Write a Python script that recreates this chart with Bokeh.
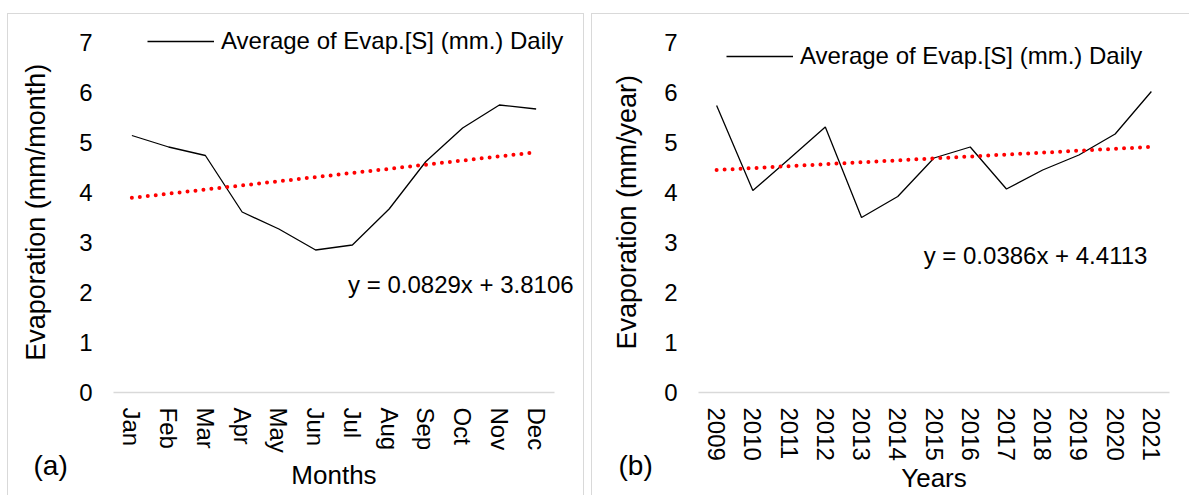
from bokeh.plotting import figure
from bokeh.models import (Range1d, FactorRange, FixedTicker, Legend, LegendItem,
                          Label, Title)
from bokeh.layouts import row
from bokeh.embed import file_html
from bokeh.resources import INLINE

# ---------------- data ----------------
months = ["Jan", "Feb", "Mar", "Apr", "May", "Jun",
          "Jul", "Aug", "Sep", "Oct", "Nov", "Dec"]
monthly_evap = [5.14, 4.91, 4.74, 3.61, 3.27, 2.85,
                2.95, 3.67, 4.62, 5.29, 5.75, 5.67]

years = ["2009", "2010", "2011", "2012", "2013", "2014", "2015",
         "2016", "2017", "2018", "2019", "2020", "2021"]
yearly_evap = [5.74, 4.04, 4.67, 5.31, 3.50, 3.92, 4.69,
               4.91, 4.07, 4.45, 4.75, 5.17, 6.02]

monthly_slope, monthly_intercept = 0.0829, 3.8106
yearly_slope, yearly_intercept = 0.0386, 4.4113

y_ticks = [0, 1, 2, 3, 4, 5, 6, 7]
series_name = "Average of Evap.[S] (mm.) Daily"

FONT = "Liberation Sans"
GRAY = "#d9d9d9"


def border_css(left, top, right):
    g = "linear-gradient(%s,%s)" % (GRAY, GRAY)
    return {"background": ", ".join([
        "%s %dpx %dpx / 1px 600px no-repeat" % (g, left, top),
        "%s %dpx %dpx / %dpx 1px no-repeat" % (g, left, top, right - left + 1),
        "%s %dpx %dpx / 1px 600px no-repeat" % (g, right, top),
    ])}


def panel(cats, vals, slope, intercept, x_title, y_title, tag, eq_text,
          width, mb_left, mb_right, x_pad, y_label_standoff, ytitle_standoff,
          xtitle_standoff, legend_loc, eq_pos, tag_offset, tag_standoff, css):
    p = figure(x_range=FactorRange(factors=cats, range_padding=x_pad,
                                   range_padding_units="absolute"),
               y_range=Range1d(0, 7.36),
               width=width, height=495,
               min_border_left=mb_left, min_border_right=mb_right,
               min_border_top=24, min_border_bottom=103,
               output_backend="svg", toolbar_location=None,
               background_fill_color=None, border_fill_color=None,
               styles=css)
    p.outline_line_color = None
    p.xgrid.visible = False
    p.ygrid.visible = False

    line_r = p.line(x=cats, y=vals, line_color="black", line_width=1.3)

    n = len(cats)
    trend_y = [slope * 1 + intercept, slope * n + intercept]
    p.line(x=[cats[0], cats[-1]], y=trend_y, line_color="red", line_width=4,
           line_dash="0 8", line_cap="round")

    # y axis
    yax = p.yaxis[0]
    yax.ticker = FixedTicker(ticks=y_ticks)
    yax.axis_line_color = None
    yax.major_tick_line_color = None
    yax.minor_tick_line_color = None
    yax.major_tick_out = 0
    yax.major_tick_in = 0
    yax.major_label_standoff = y_label_standoff
    yax.major_label_text_font = FONT
    yax.major_label_text_font_size = "24px"
    yax.major_label_text_color = "black"
    yax.axis_label = y_title
    yax.axis_label_text_font = FONT
    yax.axis_label_text_font_size = "27px"
    yax.axis_label_text_font_style = "normal"
    yax.axis_label_text_color = "black"
    yax.axis_label_standoff = ytitle_standoff

    # x axis
    xax = p.xaxis[0]
    xax.bounds = (0, n)
    xax.axis_line_color = GRAY
    xax.axis_line_width = 1.5
    xax.major_tick_line_color = None
    xax.minor_tick_line_color = None
    xax.major_tick_out = 0
    xax.major_tick_in = 0
    xax.major_label_orientation = "vertical"
    xax.major_label_standoff = 15
    xax.major_label_text_font = FONT
    xax.major_label_text_font_size = "24px"
    xax.major_label_text_color = "black"
    xax.axis_label = x_title
    xax.axis_label_text_font = FONT
    xax.axis_label_text_font_size = "26px"
    xax.axis_label_text_font_style = "normal"
    xax.axis_label_text_color = "black"
    xax.axis_label_standoff = xtitle_standoff

    legend = Legend(items=[LegendItem(label=series_name, renderers=[line_r])],
                    location=legend_loc, glyph_width=67, glyph_height=28,
                    label_standoff=7, padding=0, margin=0, spacing=0,
                    border_line_color=None, background_fill_alpha=0,
                    label_text_font=FONT, label_text_font_size="24px",
                    label_text_color="black")
    p.add_layout(legend)

    p.add_layout(Label(x=eq_pos[0], y=eq_pos[1], text=eq_text,
                       text_align="right", text_baseline="middle",
                       text_font=FONT, text_font_size="24px", text_color="black"))

    p.add_layout(Title(text=tag, align="left", vertical_align="top",
                       offset=tag_offset, standoff=tag_standoff,
                       text_font=FONT, text_font_size="28px",
                       text_font_style="normal", text_color="black"), "below")
    return p


pa = panel(months, monthly_evap, monthly_slope, monthly_intercept,
           "Months", "Evaporation  (mm/month)", "(a)",
           "y = 0.0829x + 3.8106",
           width=589, mb_left=92, mb_right=14, x_pad=0.5714,
           y_label_standoff=0, ytitle_standoff=25, xtitle_standoff=4,
           legend_loc=(55, 337), eq_pos=(12.52, 2.17),
           tag_offset=-59, tag_standoff=-86,
           css=border_css(7, 13, 583))

pb = panel(years, yearly_evap, yearly_slope, yearly_intercept,
           "Years", "Evaporation  (mm/year)", "(b)",
           "y = 0.0386x + 4.4113",
           width=600, mb_left=109, mb_right=20, x_pad=0,
           y_label_standoff=21, ytitle_standoff=19, xtitle_standoff=-1,
           legend_loc=(28, 322), eq_pos=(12.39, 2.74),
           tag_offset=-80, tag_standoff=-92,
           css=border_css(2, 13, 1000))

layout = row(pa, pb)
open("out.html", "w").write(file_html(layout, INLINE))
